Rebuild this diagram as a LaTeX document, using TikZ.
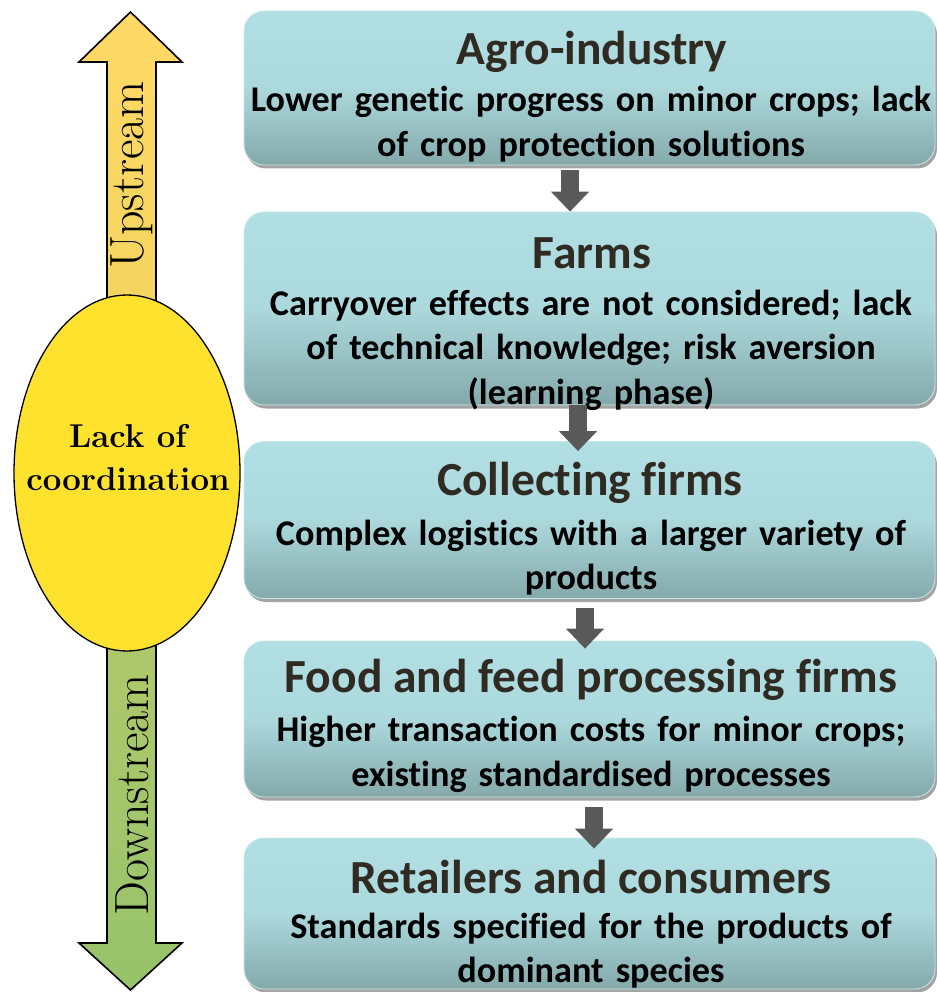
\documentclass[tikz,border=0pt]{standalone}
\usepackage{fontspec}
\newfontfamily\carl[Ligatures={NoCommon}]{Carlito}
\usetikzlibrary{shapes.geometric,arrows.meta,shadows,calc}
\definecolor{boxtop}{HTML}{B1DFE3}
\definecolor{boxbot}{HTML}{84A9AB}
\definecolor{titlecol}{HTML}{2F2A22}
\definecolor{arrgrey}{HTML}{595959}
\definecolor{upA}{HTML}{FFD966}
\definecolor{upB}{HTML}{EDD25C}
\definecolor{dnA}{HTML}{BACB6A}
\definecolor{dnB}{HTML}{96C36B}
\definecolor{ellfill}{HTML}{FEE22E}
\tikzset{
  box/.style={rectangle, rounded corners=20pt, minimum width=691pt,
    draw=boxtop!70!white, line width=0.8pt,
    top color=boxtop, bottom color=boxbot, middle color=boxtop!88!boxbot,
    drop shadow={shadow xshift=2pt, shadow yshift=-3.5pt, fill=black!45, opacity=0.8}},
  boxtitle/.style={font=\carl\bfseries\fontsize{47.5}{50}\selectfont, text=titlecol, inner sep=0pt},
  boxbody/.style={font=\carl\bfseries\fontsize{36.2}{44.5}\selectfont, text=black, align=center, inner sep=0pt, text width=720pt},
  flowarrow/.style={draw=arrgrey, line width=18pt, -{Triangle[width=37pt,length=20pt]}},
  sidetext/.style={font=\fontsize{48}{52}\selectfont, text=black, inner sep=0pt}
}
\begin{document}
\begin{tikzpicture}[x=1pt,y=-1pt]
\useasboundingbox (0,0) rectangle (936,992);
% side double arrow
\fill[top color=upA, bottom color=upB] (130.5,12) -- (182,62) -- (156,62) -- (156,473) -- (107,473) -- (107,62) -- (79,62) -- cycle;
\fill[top color=dnA, bottom color=dnB] (107,473) -- (156,473) -- (156,943) -- (182,943) -- (130.5,990) -- (79,943) -- (107,943) -- cycle;
\draw[line width=1.6pt, line join=miter] (130.5,12) -- (182,62) -- (156,62) -- (156,943) -- (182,943) -- (130.5,990) -- (79,943) -- (107,943) -- (107,62) -- (79,62) -- cycle;
\node[sidetext, rotate=90] (up) at (132,175) {Upstream};
\node[sidetext, rotate=90] (down) at (132,795) {Downstream};
% ellipse
\node[ellipse, draw=black, line width=1.3pt, fill=ellfill, minimum width=226pt, minimum height=356pt, inner sep=0pt] (lc) at (127,473) {};
\node[font=\bfseries\fontsize{33}{43}\selectfont, align=center, inner sep=0pt] (lct) at ($(lc.center)+(1,-15)$) {Lack of\\coordination};
% boxes
\node[box, minimum height=154pt] (b1) at (589.5,88) {};
\node[box, minimum height=193pt] (b2) at (589.5,308.5) {};
\node[box, minimum height=157pt] (b3) at (589.5,520) {};
\node[box, minimum height=156pt] (b4) at (589.5,719) {};
\node[box, minimum height=151pt] (b5) at (589.5,913.5) {};
% texts
\node[boxtitle] (t1) at (592,52) {Agro-industry};
\node[boxbody] (d1) at (591,124) {Lower genetic progress on minor crops; lack\\of crop protection solutions};
\node[boxtitle] (t2) at (592,253) {Farms};
\node[boxbody] (d2) at (591,350) {Carryover effects are not considered; lack\\of technical knowledge; risk aversion\\(learning phase)};
\node[boxtitle] (t3) at (590,483) {Collecting firms};
\node[boxbody] (d3) at (591,557.5) {Complex logistics with a larger variety of\\products};
\node[boxtitle] (t4) at (591,680) {Food and feed processing firms};
\node[boxbody] (d4) at (591,754.5) {Higher transaction costs for minor crops;\\existing standardised processes};
\node[boxtitle] (t5) at (591,877) {Retailers and consumers};
\node[boxbody] (d5) at (591,950.5) {Standards specified for the products of\\dominant species};
% flow arrows
\draw[flowarrow] ($(b1.south)+(-19.5,5)$) -- ($(b2.north)+(-19.5,0)$);
\draw[flowarrow] ($(b2.south)+(-11.5,0)$) -- ($(b3.north)+(-11.5,10)$);
\draw[flowarrow] ($(b3.south)+(-4.5,9)$) -- ($(b4.north)+(-4.5,8)$);
\draw[flowarrow] ($(b4.south)+(4.5,10)$) -- ($(b5.north)+(4.5,11)$);
\end{tikzpicture}
\end{document}
